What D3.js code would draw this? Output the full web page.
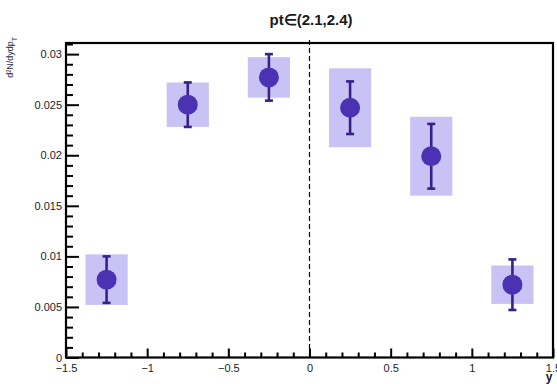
<!DOCTYPE html>
<html>
<head>
<meta charset="utf-8">
<script src="https://cdn.jsdelivr.net/npm/d3@7"></script>
<style>
  html, body { margin: 0; padding: 0; background: #fff; }
  svg { display: block; }
  text { font-family: "Liberation Sans", Arial, sans-serif; }
</style>
</head>
<body>
<svg id="chart" width="557" height="384"></svg>
<script>
// Rapidity bin centres and measured yields
const rapidity = [-1.25, -0.75, -0.25, 0.25, 0.75, 1.25];
const yieldValues = [0.0077, 0.0250, 0.0277, 0.0247, 0.0199, 0.0072];
const statErrors = [0.0023, 0.0022, 0.0023, 0.0026, 0.0032, 0.0025];
const sysErrors = [0.0025, 0.0022, 0.0020, 0.0039, 0.0039, 0.0019];

const xTickValues = [-1.5, -1, -0.5, 0, 0.5, 1, 1.5];
const xTickLabels = ["\u22121.5", "\u22121", "\u22120.5", "0", "0.5", "1", "1.5"];
const yTickValues = [0, 0.005, 0.01, 0.015, 0.02, 0.025, 0.03];
const yTickLabels = ["0", "0.005", "0.01", "0.015", "0.02", "0.025", "0.03"];

const titleText = "pt\u2208(2.1,2.4)";
const xAxisTitle = "y";

const svg = d3.select("#chart");
const frame = { left: 66, right: 553, top: 43, bottom: 357.5 };

const x = d3.scaleLinear().domain([-1.5, 1.5]).range([frame.left, frame.right]);
const y = d3.scaleLinear().domain([0, 0.0311]).range([frame.bottom, frame.top]);

const boxHalfWidth = 0.13;
const markerColor = "#4a32b3";
const barColor = "#37208a";
const boxColor = "#c9c3f5";

const rows = rapidity.map((r, i) => ({
  x: r, v: yieldValues[i], stat: statErrors[i], sys: sysErrors[i]
}));

// Systematic uncertainty boxes
svg.append("g").selectAll("rect").data(rows).join("rect")
  .attr("x", d => x(d.x - boxHalfWidth))
  .attr("width", d => x(d.x + boxHalfWidth) - x(d.x - boxHalfWidth))
  .attr("y", d => y(d.v + d.sys))
  .attr("height", d => y(d.v - d.sys) - y(d.v + d.sys))
  .attr("fill", boxColor);

// Dashed line at y = 0
svg.append("line")
  .attr("x1", x(0)).attr("x2", x(0))
  .attr("y1", frame.top - 3).attr("y2", frame.bottom)
  .attr("stroke", "#000").attr("stroke-width", 1.2)
  .attr("stroke-dasharray", "5,3");

// Statistical error bars
const bars = svg.append("g").selectAll("g").data(rows).join("g")
  .attr("stroke", barColor).attr("stroke-width", 2.6);
bars.append("line")
  .attr("x1", d => x(d.x)).attr("x2", d => x(d.x))
  .attr("y1", d => y(d.v + d.stat)).attr("y2", d => y(d.v - d.stat));
bars.append("line")
  .attr("x1", d => x(d.x) - 4).attr("x2", d => x(d.x) + 4)
  .attr("y1", d => y(d.v + d.stat)).attr("y2", d => y(d.v + d.stat));
bars.append("line")
  .attr("x1", d => x(d.x) - 4).attr("x2", d => x(d.x) + 4)
  .attr("y1", d => y(d.v - d.stat)).attr("y2", d => y(d.v - d.stat));

// Markers
svg.append("g").selectAll("circle").data(rows).join("circle")
  .attr("cx", d => x(d.x)).attr("cy", d => y(d.v))
  .attr("r", 10).attr("fill", markerColor);

// Minor ticks
const xMinor = d3.range(-15, 16).map(i => i / 10).filter(v => Math.abs(v * 2 - Math.round(v * 2)) > 1e-9);
const yMinor = d3.range(0, 32).map(i => i / 1000).filter(v => Math.abs(v / 0.005 - Math.round(v / 0.005)) > 1e-9);

svg.append("g").attr("transform", `translate(0,${frame.bottom})`)
  .call(d3.axisBottom(x).tickValues(xMinor).tickSize(-5).tickFormat(""))
  .call(g => g.select(".domain").remove())
  .selectAll("line").attr("stroke", "#000").attr("stroke-width", 2);

svg.append("g").attr("transform", `translate(${frame.left},0)`)
  .call(d3.axisLeft(y).tickValues(yMinor).tickSize(-7).tickFormat(""))
  .call(g => g.select(".domain").remove())
  .selectAll("line").attr("stroke", "#000").attr("stroke-width", 2);

// Major ticks with labels
const xAxis = svg.append("g").attr("transform", `translate(0,${frame.bottom})`)
  .call(d3.axisBottom(x).tickValues(xTickValues).tickSize(-9).tickPadding(12)
    .tickFormat((d, i) => xTickLabels[i]));
xAxis.select(".domain").remove();
xAxis.selectAll("line").attr("stroke", "#000").attr("stroke-width", 2);
xAxis.selectAll("text").attr("font-size", 11).attr("fill", "#1a1a2a").attr("dy", "0.2em");

const yAxis = svg.append("g").attr("transform", `translate(${frame.left},0)`)
  .call(d3.axisLeft(y).tickValues(yTickValues).tickSize(-13).tickPadding(4)
    .tickFormat((d, i) => yTickLabels[i]));
yAxis.select(".domain").remove();
yAxis.selectAll("line").attr("stroke", "#000").attr("stroke-width", 2);
yAxis.selectAll("text").attr("font-size", 11).attr("fill", "#1a1a2a");

// Frame
svg.append("rect")
  .attr("x", frame.left).attr("y", frame.top)
  .attr("width", frame.right - frame.left).attr("height", frame.bottom - frame.top)
  .attr("fill", "none").attr("stroke", "#000").attr("stroke-width", 2.2);

// Title
svg.append("text")
  .attr("x", 311).attr("y", 25)
  .attr("text-anchor", "middle")
  .attr("font-size", 15).attr("font-weight", "bold").attr("fill", "#1a1a1a")
  .text(titleText);

// Axis titles
svg.append("text")
  .attr("x", frame.right - 4).attr("y", 381)
  .attr("text-anchor", "middle")
  .attr("font-size", 12).attr("font-weight", "bold").attr("fill", "#1a1a2a")
  .text(xAxisTitle);

const yTitle = svg.append("text")
  .attr("transform", `translate(13,${frame.top - 6}) rotate(-90)`)
  .attr("text-anchor", "end")
  .attr("font-size", 9).attr("fill", "#2a2a4a");
yTitle.append("tspan").text("d\u00b2N/dydp");
yTitle.append("tspan").attr("baseline-shift", "sub").attr("font-size", 7).text("T");
</script>
</body>
</html>
